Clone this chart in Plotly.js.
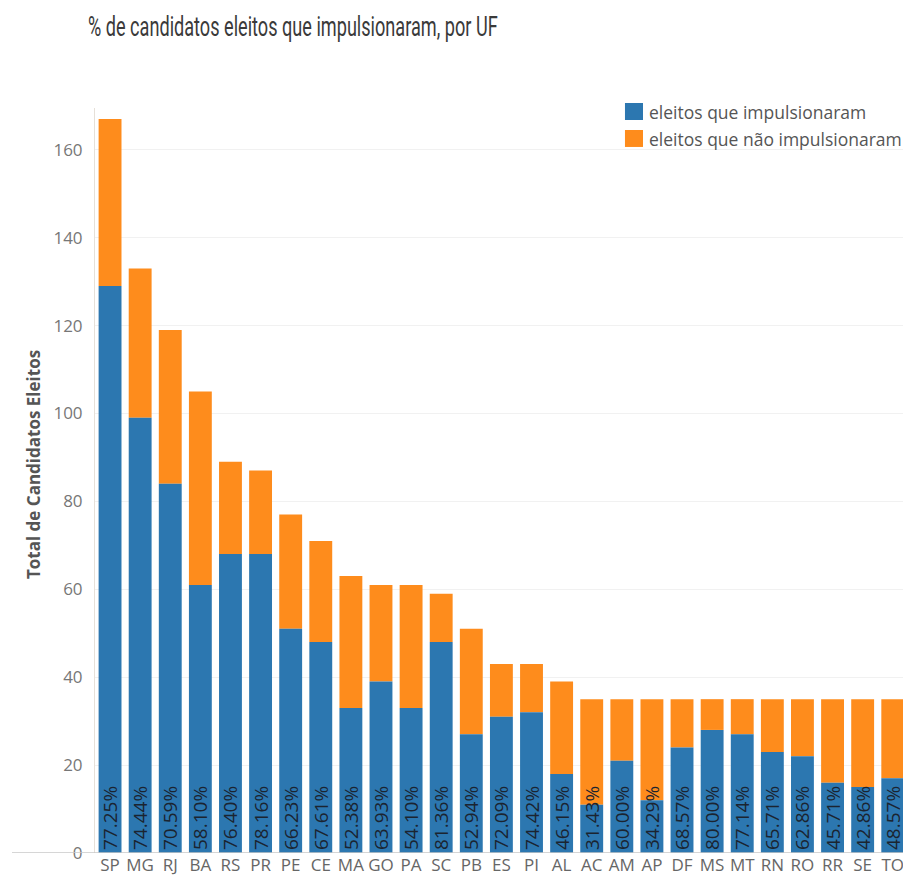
<!DOCTYPE html>
<html>
<head>
<meta charset="utf-8">
<script src="https://cdn.plot.ly/plotly-3.0.1.min.js"></script>
<style>
  html, body { margin: 0; padding: 0; background: #fff; }
  #chart { width: 903px; height: 881px; }
</style>
</head>
<body>
<div id="chart"></div>
<script>
// Estados (UF), ordenados pelo total de eleitos
const ufs = ['SP','MG','RJ','BA','RS','PR','PE','CE','MA','GO','PA','SC','PB','ES','PI',
             'AL','AC','AM','AP','DF','MS','MT','RN','RO','RR','SE','TO'];
// Eleitos que impulsionaram
const impulsionaram = [129, 99, 84, 61, 68, 68, 51, 48, 33, 39, 33, 48, 27, 31, 32,
                       18, 11, 21, 12, 24, 28, 27, 23, 22, 16, 15, 17];
// Eleitos que não impulsionaram
const naoImpulsionaram = [38, 34, 35, 44, 21, 19, 26, 23, 30, 22, 28, 11, 24, 12, 11,
                          21, 24, 14, 23, 11, 7, 8, 12, 13, 19, 20, 18];
const seriesNames = ['eleitos que impulsionaram', 'eleitos que não impulsionaram'];
const yTicks = [0, 20, 40, 60, 80, 100, 120, 140, 160];

const BLUE = '#2c77b0';
const ORANGE = '#fe8c1c';
const FONT = 'Open Sans, Noto Sans, sans-serif';

const pctLabels = impulsionaram.map((v, i) =>
  (100 * v / (v + naoImpulsionaram[i])).toFixed(2) + '%');

// a parte laranja é desenhada primeiro, apoiada sobre a azul,
// para que os rótulos da série azul fiquem por cima quando transbordam
const traces = [
  {
    type: 'bar', name: seriesNames[1], x: ufs, y: naoImpulsionaram, base: impulsionaram,
    marker: { color: ORANGE }, width: 0.76,
    textposition: 'none', hoverinfo: 'x+y+name'
  },
  {
    type: 'bar', name: seriesNames[0], x: ufs, y: impulsionaram,
    marker: { color: BLUE }, width: 0.76,
    text: pctLabels, textposition: 'inside', insidetextanchor: 'start',
    textangle: -90, constraintext: 'none', cliponaxis: false,
    textfont: { family: FONT, size: 19, color: '#1b2430' },
    hoverinfo: 'x+y+name'
  }
];

// legenda: quadrados coloridos e textos em coordenadas de papel
const legendColors = [BLUE, ORANGE];
const legendShapes = [];
const legendNotes = [];
legendColors.forEach((c, i) => {
  const top = 1.0067 - i * 0.0362;
  legendShapes.push({
    type: 'rect', xref: 'paper', yref: 'paper',
    x0: 0.6559, x1: 0.6782, y0: top - 0.0228, y1: top,
    fillcolor: c, line: { width: 0 }
  });
  legendNotes.push({
    xref: 'paper', yref: 'paper', x: 0.6832, y: top - 0.0125,
    xanchor: 'left', yanchor: 'middle', showarrow: false,
    text: seriesNames[i], font: { family: FONT, size: 17.5, color: '#555' }
  });
});

// título do eixo vertical
legendNotes.push({
  xref: 'paper', yref: 'paper', x: -0.0767, y: 0.5208,
  xanchor: 'center', yanchor: 'middle', showarrow: false, textangle: -90,
  text: 'Total de Candidatos Eleitos',
  font: { family: FONT, size: 17, color: '#555', weight: 'bold' }
});

const layout = {
  width: 903, height: 881,
  margin: { l: 95, r: 0, t: 108, b: 28 },
  paper_bgcolor: '#fff', plot_bgcolor: '#fff',
  barmode: 'overlay',
  showlegend: false,
  title: {
    text: '% de candidatos eleitos que impulsionaram, por UF',
    font: { family: 'Roboto, sans-serif', size: 27, color: '#3a3a3a' },
    x: 88 / 903, xanchor: 'left', xref: 'container',
    y: 1 - 27 / 881, yanchor: 'middle', yref: 'container'
  },
  xaxis: {
    type: 'category', range: [-0.5, 26.34],
    showgrid: false, zeroline: false, showline: false, ticks: '',
    tickfont: { family: FONT, size: 17, color: '#666' },
    fixedrange: true
  },
  yaxis: {
    range: [0, 169.5], tickvals: yTicks,
    showgrid: true, gridcolor: '#f1f1f1', gridwidth: 1,
    zeroline: false, showline: true, linecolor: '#e6e0d8', linewidth: 1,
    ticks: '', ticklabelstandoff: 8,
    tickfont: { family: FONT, size: 17, color: '#777' },
    fixedrange: true
  },
  shapes: [
    // linha de base estendida até a margem esquerda
    { type: 'line', xref: 'paper', yref: 'y', x0: -83 / 808, x1: 1, y0: 0, y1: 0,
      line: { color: '#c9c9c9', width: 1.5 } }
  ].concat(legendShapes),
  annotations: legendNotes
};

Plotly.newPlot('chart', traces, layout, { displayModeBar: false, staticPlot: true })
  .then(gd => {
    // título em letra condensada: comprime horizontalmente a partir da margem esquerda
    const t = gd.querySelector('.gtitle');
    if (t) {
      const x0 = parseFloat(t.getAttribute('x')) || 88;
      const w = t.getBBox().width;
      const sx = w > 0 ? 410 / w : 0.68;
      t.setAttribute('transform', `translate(${x0},0) scale(${sx},1) translate(${-x0},0)`);
    }
  });
</script>
</body>
</html>
